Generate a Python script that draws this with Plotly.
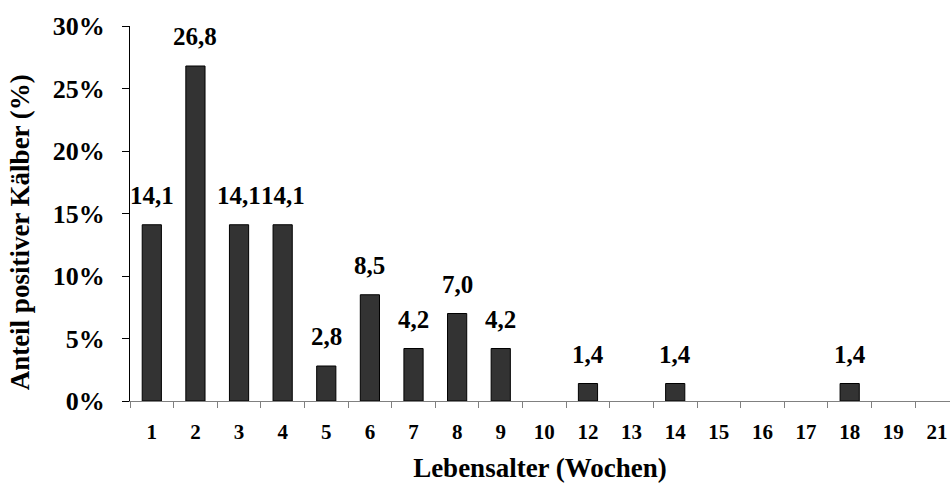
import plotly.graph_objects as go

# Age in weeks and share of positive calves (%)
weeks = ["1", "2", "3", "4", "5", "6", "7", "8", "9", "10",
         "12", "13", "14", "15", "16", "17", "18", "19", "21"]
share = [14.1, 26.8, 14.1, 14.1, 2.8, 8.5, 4.2, 7.0, 4.2, 0.0,
         1.4, 0.0, 1.4, 0.0, 0.0, 0.0, 1.4, 0.0, 0.0]
y_ticks = [0, 5, 10, 15, 20, 25, 30]

FONT = "Liberation Serif"

fig = go.Figure(
    go.Bar(
        x=weeks,
        y=share,
        width=0.44,
        marker=dict(
            color="#333333",
            line=dict(color="#000000", width=[1 if v > 0 else 0 for v in share]),
        ),
        hoverinfo="x+y",
    )
)

# Value labels above the non-empty bars (German decimal comma);
# positioned by category index so numeric-looking names are not misread
for i, v in enumerate(share):
    if v > 0:
        fig.add_annotation(
            x=i, y=v, text="<b>" + f"{v:.1f}".replace(".", ",") + "</b>",
            showarrow=False, yanchor="bottom", yshift=14,
            font=dict(family=FONT, size=25, color="#000000"),
        )

# Vertical axis title, set slightly below the plot's middle
fig.add_annotation(
    xref="paper", yref="paper", x=-0.134, y=0.45,
    text="<b>Anteil positiver Kälber (%)</b>", textangle=-90,
    showarrow=False, xanchor="center", yanchor="middle",
    font=dict(family=FONT, size=27, color="#000000"),
)

fig.update_layout(
    width=950, height=483,
    margin=dict(l=130, r=0, t=26, b=82),
    paper_bgcolor="white", plot_bgcolor="white",
    showlegend=False,
    font=dict(family=FONT, color="#000000"),
)

fig.update_xaxes(
    type="category",
    range=[-0.5, 18.3],
    tickson="boundaries",
    ticks="outside", ticklen=6, tickcolor="#808080", tickwidth=1,
    showline=True, linecolor="#808080", linewidth=1,
    showgrid=False, zeroline=False,
    tickfont=dict(family=FONT, size=21, weight="bold"),
    ticklabelstandoff=12,
    title=dict(text="<b>Lebensalter (Wochen)</b>",
               font=dict(family=FONT, size=27), standoff=14),
)

fig.update_yaxes(
    range=[0, 30],
    tickvals=y_ticks,
    ticktext=[f"<b>{t}%</b>" for t in y_ticks],
    ticks="outside", ticklen=7, tickcolor="#000000", tickwidth=1,
    showline=True, linecolor="#000000", linewidth=1,
    showgrid=False, zeroline=False,
    tickfont=dict(family=FONT, size=26),
    ticklabelstandoff=12,
)

fig.write_html("out.html")
